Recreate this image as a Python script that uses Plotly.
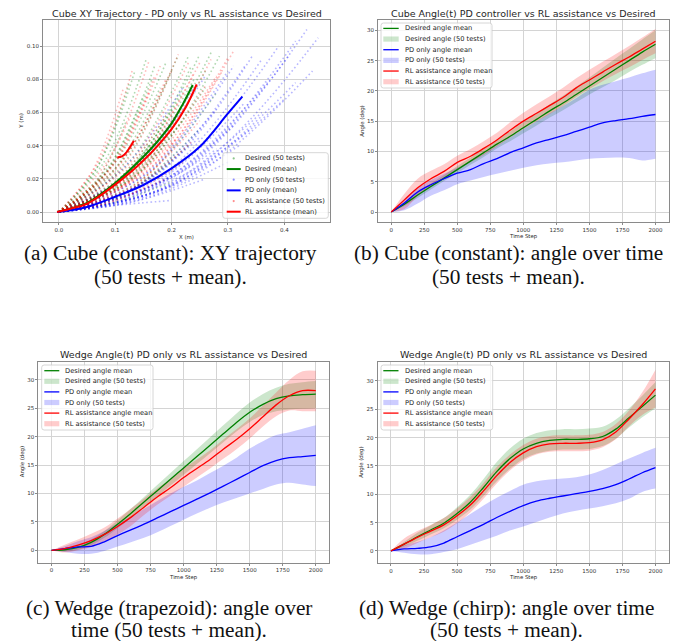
import plotly.graph_objects as go

W, H = 692, 641

# ---------------- (a) Cube XY trajectory ----------------
# each test: (x_mid, y_mid, x_end, y_end); trajectories start at the origin
A_DES_TESTS = [
    (0.070, 0.028, 0.135, 0.085), (0.080, 0.030, 0.155, 0.092), (0.090, 0.028, 0.170, 0.088),
    (0.100, 0.030, 0.190, 0.090), (0.110, 0.030, 0.210, 0.093), (0.120, 0.028, 0.230, 0.094),
    (0.130, 0.027, 0.250, 0.095), (0.140, 0.026, 0.270, 0.096), (0.150, 0.026, 0.285, 0.094),
    (0.120, 0.022, 0.240, 0.080), (0.130, 0.020, 0.260, 0.075), (0.140, 0.018, 0.280, 0.072),
    (0.110, 0.020, 0.220, 0.072), (0.100, 0.014, 0.220, 0.055), (0.120, 0.012, 0.250, 0.050),
    (0.100, 0.008, 0.200, 0.030), (0.090, 0.005, 0.200, 0.018), (0.090, 0.022, 0.180, 0.075),
    (0.075, 0.020, 0.150, 0.070), (0.060, 0.015, 0.120, 0.055),
    (0.065, 0.025, 0.125, 0.078), (0.085, 0.024, 0.165, 0.080), (0.105, 0.025, 0.200, 0.085),
    (0.125, 0.024, 0.235, 0.088), (0.135, 0.022, 0.260, 0.085), (0.095, 0.016, 0.190, 0.058),
    (0.110, 0.010, 0.230, 0.040), (0.080, 0.010, 0.160, 0.040),
]
A_PD_TESTS = [
    (0.110, 0.025, 0.220, 0.075), (0.130, 0.025, 0.260, 0.082), (0.150, 0.022, 0.300, 0.085),
    (0.170, 0.022, 0.330, 0.088), (0.190, 0.024, 0.360, 0.092), (0.200, 0.025, 0.390, 0.100),
    (0.220, 0.026, 0.420, 0.103), (0.230, 0.027, 0.440, 0.110), (0.240, 0.026, 0.460, 0.105),
    (0.230, 0.020, 0.450, 0.085), (0.210, 0.018, 0.420, 0.078), (0.200, 0.016, 0.400, 0.068),
    (0.180, 0.014, 0.360, 0.060), (0.170, 0.012, 0.340, 0.050), (0.160, 0.010, 0.320, 0.040),
    (0.150, 0.008, 0.300, 0.030), (0.130, 0.006, 0.260, 0.020), (0.100, 0.004, 0.200, 0.007),
    (0.120, 0.012, 0.250, 0.045), (0.140, 0.016, 0.280, 0.062),
    (0.120, 0.022, 0.240, 0.075), (0.160, 0.024, 0.310, 0.088), (0.180, 0.024, 0.345, 0.095),
    (0.215, 0.024, 0.410, 0.095), (0.190, 0.020, 0.370, 0.078), (0.165, 0.016, 0.330, 0.066),
    (0.155, 0.013, 0.310, 0.052), (0.140, 0.010, 0.280, 0.038),
]
A_RL_TESTS = [
    (0.070, 0.030, 0.130, 0.085), (0.085, 0.030, 0.160, 0.091), (0.095, 0.028, 0.180, 0.088),
    (0.110, 0.030, 0.212, 0.095), (0.120, 0.027, 0.230, 0.090), (0.130, 0.026, 0.250, 0.090),
    (0.145, 0.026, 0.270, 0.092), (0.160, 0.026, 0.310, 0.097), (0.140, 0.022, 0.280, 0.082),
    (0.130, 0.020, 0.260, 0.076), (0.120, 0.020, 0.240, 0.072), (0.110, 0.018, 0.220, 0.065),
    (0.125, 0.014, 0.250, 0.055), (0.100, 0.012, 0.210, 0.045), (0.110, 0.008, 0.220, 0.030),
    (0.090, 0.006, 0.190, 0.020), (0.080, 0.022, 0.160, 0.072), (0.065, 0.018, 0.130, 0.060),
    (0.100, 0.025, 0.190, 0.080), (0.150, 0.020, 0.290, 0.085),
    (0.060, 0.025, 0.115, 0.075), (0.090, 0.025, 0.170, 0.082), (0.105, 0.024, 0.200, 0.085),
    (0.125, 0.023, 0.240, 0.084), (0.155, 0.024, 0.300, 0.093), (0.095, 0.016, 0.190, 0.058),
    (0.115, 0.011, 0.235, 0.042), (0.085, 0.009, 0.170, 0.035),
]
A_DES_MEAN_X = [-0.003, 0.02, 0.05, 0.10, 0.15, 0.175, 0.20, 0.22, 0.2375]
A_DES_MEAN_Y = [0.0, 0.002, 0.0055, 0.0175, 0.0333, 0.0425, 0.0534, 0.065, 0.0765]
A_PD_MEAN_X = [-0.003, 0.02, 0.05, 0.10, 0.15, 0.20, 0.25, 0.30, 0.3255]
A_PD_MEAN_Y = [0.0, 0.001, 0.003, 0.0092, 0.0163, 0.0263, 0.0393, 0.0594, 0.0695]
A_RL_MEAN_X = [-0.003, 0.02, 0.05, 0.10, 0.15, 0.20, 0.225, 0.2445, None,
               0.104, 0.112, 0.120, 0.128, 0.133]
A_RL_MEAN_Y = [0.0, 0.002, 0.005, 0.0165, 0.031, 0.050, 0.063, 0.0769, None,
               0.033, 0.0335, 0.036, 0.040, 0.043]

# ---------------- time-series panels ----------------
T = [0, 100, 200, 300, 400, 500, 600, 700, 800, 900, 1000,
     1100, 1200, 1300, 1400, 1500, 1600, 1700, 1800, 1900, 2000]

# (b) Cube constant
B_DES = [0, 1.3, 2.8, 4.2, 5.6, 7.0, 8.4, 9.8, 11.2, 12.5, 13.9, 15.3, 16.7, 18.0, 19.4, 20.8, 22.2, 23.6, 25.0, 26.4, 27.7]
B_DES_LO = [0, 1.0, 2.3, 3.7, 5.1, 6.4, 7.8, 9.1, 10.5, 11.7, 13.0, 14.3, 15.6, 16.8, 18.1, 19.4, 20.6, 21.8, 23.1, 24.3, 25.4]
B_DES_HI = [0, 1.6, 3.3, 4.7, 6.1, 7.6, 9.0, 10.5, 11.9, 13.3, 14.8, 16.3, 17.8, 19.2, 20.7, 22.2, 23.8, 25.4, 26.9, 28.5, 30.0]
B_PD = [0, 1.5, 3.3, 4.5, 5.5, 6.4, 7.0, 8.0, 8.8, 9.8, 10.6, 11.4, 12.0, 12.6, 13.3, 14.0, 14.7, 15.1, 15.4, 15.8, 16.1]
B_PD_LO = [0, 0.3, 1.4, 2.7, 3.6, 4.6, 5.2, 5.8, 6.3, 6.8, 7.3, 7.7, 8.0, 8.2, 8.5, 8.8, 8.9, 9.0, 8.9, 8.5, 8.8]
B_PD_HI = [0, 2.2, 4.0, 5.3, 6.3, 7.3, 8.4, 9.6, 11.0, 12.3, 13.7, 15.0, 16.3, 17.5, 18.8, 20.2, 21.0, 21.6, 22.2, 22.9, 23.5]
B_RL = [0, 2.0, 4.0, 5.5, 6.7, 8.2, 9.2, 10.5, 11.9, 13.5, 15.0, 16.3, 17.6, 18.9, 20.5, 21.8, 23.1, 24.4, 25.6, 26.9, 28.2]
B_RL_LO = [0, 0.5, 2.6, 4.2, 5.6, 7.1, 8.2, 9.4, 10.8, 12.3, 13.7, 15.0, 16.2, 17.5, 19.0, 20.3, 21.6, 22.8, 23.9, 25.1, 26.2]
B_RL_HI = [0, 3.0, 5.5, 6.8, 7.9, 9.3, 10.4, 11.7, 13.1, 14.8, 16.4, 17.8, 19.1, 20.5, 22.1, 23.5, 24.8, 26.1, 27.4, 28.8, 30.2]

# (c) Wedge trapezoid
C_DES = [0, 0.1, 0.5, 1.4, 2.8, 4.6, 6.5, 8.5, 10.5, 12.5, 14.5, 16.5, 18.5, 20.5, 22.5, 24.3, 25.7, 26.7, 27.2, 27.4, 27.5]
C_DES_LO = [0, -0.2, 0.1, 0.9, 2.2, 3.9, 5.7, 7.6, 9.5, 11.4, 13.3, 15.2, 17.1, 19.0, 20.9, 22.6, 23.8, 24.5, 24.8, 24.9, 25.0]
C_DES_HI = [0, 0.4, 0.9, 1.9, 3.4, 5.3, 7.3, 9.4, 11.5, 13.6, 15.7, 17.8, 19.9, 22.0, 24.1, 26.0, 27.5, 28.6, 29.3, 29.6, 29.8]
C_PD = [0, 0.3, 0.6, 0.7, 1.5, 2.6, 3.6, 4.6, 5.7, 6.8, 7.9, 9.0, 10.1, 11.3, 12.5, 13.7, 14.9, 15.8, 16.3, 16.5, 16.7]
C_PD_LO = [0, -0.3, -0.6, -0.6, -0.1, 0.65, 1.4, 2.2, 3.2, 4.3, 5.4, 6.5, 7.5, 8.4, 9.2, 10.0, 10.8, 11.6, 11.9, 11.6, 11.3]
C_PD_HI = [0, 0.7, 1.6, 2.3, 3.4, 4.7, 5.9, 7.3, 8.7, 10.0, 11.2, 12.3, 13.6, 14.9, 16.3, 17.9, 19.2, 20.3, 20.8, 21.4, 22.0]
C_RL = [0, 0.3, 0.9, 1.7, 2.8, 4.2, 5.8, 7.6, 9.4, 11.0, 12.8, 14.4, 16.0, 17.8, 19.5, 21.4, 23.5, 25.6, 27.2, 28.1, 28.1]
C_RL_LO = [0, -0.4, 0.0, 0.6, 1.6, 2.8, 4.3, 6.2, 8.0, 9.6, 11.2, 12.8, 14.4, 16.1, 17.8, 19.7, 21.8, 23.6, 24.6, 24.5, 24.5]
C_RL_HI = [0, 1.0, 1.9, 2.9, 4.0, 5.6, 7.3, 9.1, 10.9, 12.5, 14.4, 16.0, 17.6, 19.5, 21.3, 23.2, 25.5, 27.8, 30.0, 31.5, 31.6]

# (d) Wedge chirp
D_DES = [0, 1.2, 2.5, 3.7, 4.9, 6.6, 8.6, 11.2, 14.0, 16.3, 18.0, 19.0, 19.5, 19.7, 19.7, 19.8, 20.2, 21.5, 23.5, 25.5, 27.5]
D_DES_LO = [0, 0.8, 1.8, 2.9, 4.0, 5.5, 7.3, 9.7, 12.3, 14.5, 16.2, 17.2, 17.7, 17.9, 17.9, 18.0, 18.5, 19.8, 21.8, 23.6, 25.2]
D_DES_HI = [0, 1.6, 3.2, 4.5, 5.8, 7.7, 9.9, 12.7, 15.7, 18.1, 19.8, 20.8, 21.3, 21.5, 21.5, 21.6, 21.9, 23.2, 25.2, 27.4, 29.8]
D_PD = [0, 0.35, 0.45, 0.7, 1.4, 2.5, 3.6, 4.7, 5.9, 7.0, 8.0, 8.8, 9.3, 9.7, 10.1, 10.5, 11.0, 11.7, 12.7, 13.8, 14.7]
D_PD_LO = [0, -0.3, -0.6, -0.6, -0.2, 0.3, 1.1, 1.9, 2.7, 3.6, 4.3, 5.1, 5.9, 6.6, 7.1, 7.5, 7.9, 8.4, 9.2, 10.4, 11.0]
D_PD_HI = [0, 1.0, 1.6, 2.4, 3.6, 5.0, 6.5, 8.0, 9.4, 10.6, 11.7, 12.3, 12.6, 12.8, 13.0, 13.5, 14.3, 15.3, 16.3, 17.3, 18.2]
D_RL = [0, 1.2, 2.4, 3.5, 4.6, 6.2, 8.1, 10.6, 13.3, 15.6, 17.3, 18.4, 18.9, 19.0, 19.0, 19.1, 19.6, 21.0, 23.3, 25.8, 28.6]
D_RL_LO = [0, 0.4, 1.4, 2.4, 3.4, 4.9, 6.8, 9.2, 11.9, 14.2, 15.9, 17.0, 17.5, 17.6, 17.6, 17.7, 18.3, 19.7, 22.0, 24.0, 25.3]
D_RL_HI = [0, 2.2, 3.5, 4.6, 5.8, 7.5, 9.5, 12.0, 14.8, 17.0, 18.7, 19.8, 20.3, 20.4, 20.4, 20.5, 21.0, 22.4, 24.8, 28.0, 32.0]

TIME_TICKS = [0, 250, 500, 750, 1000, 1250, 1500, 1750, 2000]
ANGLE_TICKS = [0, 5, 10, 15, 20, 25, 30]
XY_XTICKS = [0.0, 0.1, 0.2, 0.3, 0.4]
XY_YTICKS = [0.00, 0.02, 0.04, 0.06, 0.08, 0.10]

TITLES = ["Cube XY Trajectory - PD only vs RL assistance vs Desired",
          "Cube Angle(t) PD controller vs RL assistance vs Desired",
          "Wedge Angle(t) PD only vs RL assistance vs Desired",
          "Wedge Angle(t) PD only vs RL assistance vs Desired"]
CAPTIONS = [("(a) Cube (constant): XY trajectory", "(50 tests + mean)."),
            ("(b) Cube (constant): angle over time", "(50 tests + mean)."),
            ("(c) Wedge (trapezoid): angle over", "time (50 tests + mean)."),
            ("(d) Wedge (chirp): angle over time", "(50 tests + mean).")]
LEG_A = ["Desired (50 tests)", "Desired (mean)", "PD only (50 tests)", "PD only (mean)",
         "RL assistance (50 tests)", "RL assistance (mean)"]
LEG_T = ["Desired angle mean", "Desired angle (50 tests)", "PD only angle mean",
         "PD only (50 tests)", "RL assistance angle mean", "RL assistance (50 tests)"]

GREEN, BLUE, RED = "#008000", "#0000ff", "#ff0000"
GREEN_F, BLUE_F, RED_F = "rgba(0,128,0,0.2)", "rgba(0,0,255,0.2)", "rgba(255,0,0,0.2)"
GREEN_D, BLUE_D, RED_D = "rgba(0,128,0,0.30)", "rgba(0,0,255,0.28)", "rgba(255,0,0,0.26)"

def px(x):
    return x / W

def py(y):
    return 1 - y / H

fig = go.Figure()

# ---- panel (a)
for tests, col in ((A_DES_TESTS, GREEN_D), (A_PD_TESTS, BLUE_D), (A_RL_TESTS, RED_D)):
    for (xm, ym, xe, ye) in tests:
        fig.add_trace(go.Scatter(x=[0, xm, xe], y=[0, ym, ye], mode="lines",
                                 line=dict(shape="spline", color=col, width=1.6, dash="1.6px,2.6px"),
                                 showlegend=False, hoverinfo="skip", xaxis="x", yaxis="y"))
for xs, ys, col in ((A_DES_MEAN_X, A_DES_MEAN_Y, GREEN), (A_PD_MEAN_X, A_PD_MEAN_Y, BLUE),
                    (A_RL_MEAN_X, A_RL_MEAN_Y, RED)):
    fig.add_trace(go.Scatter(x=xs, y=ys, mode="lines", line=dict(shape="spline", color=col, width=2),
                             showlegend=False, hoverinfo="skip", xaxis="x", yaxis="y"))

# ---- panels (b)(c)(d)
def add_panel(ax, des, des_lo, des_hi, pd, pd_lo, pd_hi, rl, rl_lo, rl_hi):
    xa, ya = ax
    for lo, hi, fc in ((des_lo, des_hi, GREEN_F), (pd_lo, pd_hi, BLUE_F), (rl_lo, rl_hi, RED_F)):
        fig.add_trace(go.Scatter(x=T, y=lo, mode="lines", line=dict(width=0, shape="spline"),
                                 showlegend=False, hoverinfo="skip", xaxis=xa, yaxis=ya))
        fig.add_trace(go.Scatter(x=T, y=hi, mode="lines", line=dict(width=0, shape="spline"),
                                 fill="tonexty", fillcolor=fc,
                                 showlegend=False, hoverinfo="skip", xaxis=xa, yaxis=ya))
    for m, col in ((des, GREEN), (pd, BLUE), (rl, RED)):
        fig.add_trace(go.Scatter(x=T, y=m, mode="lines", line=dict(color=col, width=1.3, shape="spline"),
                                 showlegend=False, hoverinfo="skip", xaxis=xa, yaxis=ya))

add_panel(("x2", "y2"), B_DES, B_DES_LO, B_DES_HI, B_PD, B_PD_LO, B_PD_HI, B_RL, B_RL_LO, B_RL_HI)
add_panel(("x3", "y3"), C_DES, C_DES_LO, C_DES_HI, C_PD, C_PD_LO, C_PD_HI, C_RL, C_RL_LO, C_RL_HI)
add_panel(("x4", "y4"), D_DES, D_DES_LO, D_DES_HI, D_PD, D_PD_LO, D_PD_HI, D_RL, D_RL_LO, D_RL_HI)

# ---- axes
TICKFONT = dict(family="DejaVu Sans", size=5.5, color="#333333")
def axis_common():
    return dict(showgrid=True, gridcolor="#d4d4d4", gridwidth=0.9, zeroline=False,
                showline=True, linecolor="#8a8a8a", linewidth=1, mirror=True,
                ticks="outside", ticklen=2, tickwidth=0.8, tickcolor="#8a8a8a",
                tickfont=TICKFONT, fixedrange=True)

boxes = {  # left, right, top, bottom (pixels)
    "a": (43, 330, 20, 222),
    "b": (378, 668.7, 20, 222),
    "c": (38.3, 329, 361.7, 562.7),
    "d": (377.7, 668.7, 361.7, 563.3),
}

layout = dict(width=W, height=H, margin=dict(l=0, r=0, t=0, b=0),
              paper_bgcolor="white", plot_bgcolor="white", showlegend=False)

def dom(k):
    l, r, t, b = boxes[k]
    return [px(l), px(r)], [py(b), py(t)]

xd, yd = dom("a")
layout["xaxis"] = dict(axis_common(), domain=xd, range=[-0.028, 0.481], tickvals=XY_XTICKS,
                       tickformat=".1f", anchor="y")
layout["yaxis"] = dict(axis_common(), domain=yd, range=[-0.006, 0.1157], tickvals=XY_YTICKS,
                       tickformat=".2f", anchor="x")
for i, (k, yr) in enumerate((("b", [-1.65, 31.7]), ("c", [-2.18, 33.2]), ("d", [-2.18, 33.4])), start=2):
    xd, yd = dom(k)
    layout[f"xaxis{i}"] = dict(axis_common(), domain=xd, range=[-100, 2100], tickvals=TIME_TICKS,
                               anchor=f"y{i}")
    layout[f"yaxis{i}"] = dict(axis_common(), domain=yd, range=yr, tickvals=ANGLE_TICKS,
                               anchor=f"x{i}")

fig.update_layout(**layout)

annotations = []
shapes = []

def text(x, y, s, size, family="DejaVu Sans", color="#262626", xanchor="center", angle=0):
    annotations.append(dict(x=px(x), y=py(y), xref="paper", yref="paper", text=s, showarrow=False,
                            xanchor=xanchor, yanchor="middle", textangle=angle,
                            font=dict(family=family, size=size, color=color)))

# titles
title_pos = [(186.5, 13.3), (523.4, 13.3), (183.7, 354.3), (523.3, 354.3)]
for (x, y), s in zip(title_pos, TITLES):
    text(x, y, s, 9.5)

# axis labels
LBL = 5.4
text(186.5, 236.5, "X (m)", LBL)
text(20.7, 121, "Y (m)", LBL, angle=-90)
text(523.4, 236.3, "Time Step", LBL)
text(361.7, 121, "Angle (deg)", LBL, angle=-90)
text(183.7, 577.3, "Time Step", LBL)
text(22.3, 462, "Angle (deg)", LBL, angle=-90)
text(523.2, 577.6, "Time Step", LBL)
text(361.3, 462.5, "Angle (deg)", LBL, angle=-90)

# captions
cap_pos = [(170, 253, 277), (508, 253, 277), (169, 607.5, 629.5), (507, 607.5, 629.5)]
for (x, y1, y2), (l1, l2) in zip(cap_pos, CAPTIONS):
    text(x, y1, l1, 21.3, family="Liberation Serif", color="#111111")
    text(x, y2, l2, 21.3, family="Liberation Serif", color="#111111")

# manual legends (pixel layout)
def rounded_box(x0, y0, x1, y1, r=2.5):
    X0, X1 = px(x0), px(x1)
    Y0, Y1 = py(y0), py(y1)
    rx, ry = r / W, r / H
    path = (f"M {X0+rx},{Y0} L {X1-rx},{Y0} Q {X1},{Y0} {X1},{Y0-ry} "
            f"L {X1},{Y1+ry} Q {X1},{Y1} {X1-rx},{Y1} L {X0+rx},{Y1} Q {X0},{Y1} {X0},{Y1+ry} "
            f"L {X0},{Y0-ry} Q {X0},{Y0} {X0+rx},{Y0} Z")
    shapes.append(dict(type="path", path=path, xref="paper", yref="paper", layer="above",
                       fillcolor="rgba(255,255,255,0.8)", line=dict(color="#cccccc", width=0.8)))

def legend(box, sym, xt, y0, dy, entries, lw):
    rounded_box(*box)
    for i, (kind, col, label) in enumerate(entries):
        yc = y0 + i * dy
        if kind == "line":
            shapes.append(dict(type="line", xref="paper", yref="paper", layer="above",
                               x0=px(sym[0]), x1=px(sym[1]), y0=py(yc), y1=py(yc),
                               line=dict(color=col, width=lw)))
        elif kind == "fill":
            shapes.append(dict(type="rect", xref="paper", yref="paper", layer="above",
                               x0=px(sym[0]), x1=px(sym[1]), y0=py(yc + 2.6), y1=py(yc - 2.6),
                               fillcolor=col, line=dict(width=0)))
        else:
            xc = (sym[0] + sym[1]) / 2
            shapes.append(dict(type="circle", xref="paper", yref="paper", layer="above",
                               x0=px(xc - 1.1), x1=px(xc + 1.1), y0=py(yc + 1.1), y1=py(yc - 1.1),
                               fillcolor=col, line=dict(width=0)))
        text(xt, yc, label, 6.7, xanchor="left", color="#222222")

legend((222.7, 152.7, 328.3, 218.3), (226.7, 240.7), 243.0, 158.4, 10.66,
       [("dot", "rgba(0,128,0,0.45)", LEG_A[0]), ("line", GREEN, LEG_A[1]),
        ("dot", "rgba(0,0,255,0.45)", LEG_A[2]), ("line", BLUE, LEG_A[3]),
        ("dot", "rgba(255,0,0,0.45)", LEG_A[4]), ("line", RED, LEG_A[5])], 2)
tent = [("line", GREEN, LEG_T[0]), ("fill", GREEN_F, LEG_T[1]), ("line", BLUE, LEG_T[2]),
        ("fill", BLUE_F, LEG_T[3]), ("line", RED, LEG_T[4]), ("fill", RED_F, LEG_T[5])]
legend((381, 23, 492, 88), (383.3, 398.7), 402.5, 28.4, 10.66, tent, 1.3)
legend((41.7, 365, 153, 430), (44.3, 59.3), 63.0, 370.7, 10.6, tent, 1.3)
legend((381, 365, 492.7, 430), (383.3, 398.5), 402.5, 370.7, 10.6, tent, 1.3)

fig.update_layout(annotations=annotations, shapes=shapes)
fig.write_html("out.html", config={"displayModeBar": False},
               post_script="document.body.style.margin='0';document.body.style.overflow='hidden';")
